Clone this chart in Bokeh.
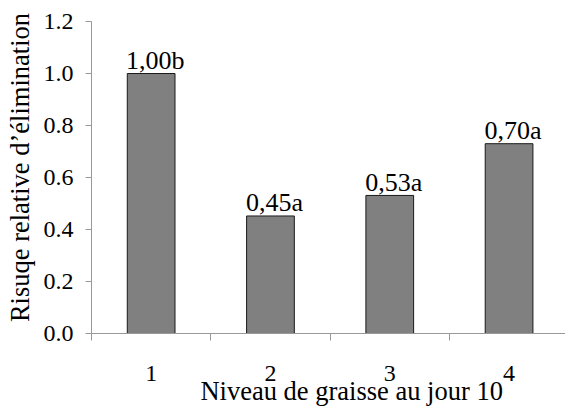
from bokeh.plotting import figure
from bokeh.models import FixedTicker, Range1d, ColumnDataSource
from bokeh.core.properties import value
from bokeh.embed import file_html
from bokeh.resources import INLINE

categories = ["1", "2", "3", "4"]
positions = [1, 2, 3, 4]
risk = [1.00, 0.452, 0.531, 0.730]
bar_labels = ["1,00b", "0,45a", "0,53a", "0,70a"]
yticks = [0.0, 0.2, 0.4, 0.6, 0.8, 1.0, 1.2]
ytick_labels = ["0.0", "0.2", "0.4", "0.6", "0.8", "1.0", "1.2"]
x_title = "Niveau de graisse au jour 10"
y_title = "Risuqe relative d\u2019élimination"

FONT = "Liberation Serif"
TICK_FS = "24px"
LABEL_FS = "26.5px"
NBSP = "\u00a0"

p = figure(width=565, height=408, output_backend="svg", toolbar_location=None,
           x_range=Range1d(0.5, 4.473), y_range=Range1d(0, 1.2),
           min_border_left=91, min_border_right=0, min_border_top=21,
           min_border_bottom=72)
p.outline_line_color = None
p.xgrid.grid_line_color = None
p.ygrid.grid_line_color = None
p.background_fill_color = "white"

src = ColumnDataSource(dict(x=positions, top=risk, lab=bar_labels))
p.vbar(x="x", top="top", width=0.40, source=src, fill_color="#808080",
       line_color="#1a1a1a", line_width=1)
p.text(x="x", y="top", text="lab", source=src, text_align="center",
       text_baseline="alphabetic", y_offset=-13, x_offset=4,
       text_font=value(FONT), text_font_size=value("26px"), text_color="black")

# x axis
xa = p.xaxis[0]
xa.ticker = FixedTicker(ticks=positions, minor_ticks=[0.5, 1.5, 2.5, 3.5, 4.5])
xa.major_label_overrides = {pos: c for pos, c in zip(positions, categories)}
xa.major_tick_out = 0
xa.major_tick_in = 0
xa.minor_tick_out = 7
xa.minor_tick_in = 0
xa.minor_tick_line_color = "#999999"
xa.axis_line_color = "#999999"
xa.major_label_standoff = 25
xa.major_label_text_font = FONT
xa.major_label_text_font_size = TICK_FS
xa.major_label_text_color = "black"
xa.axis_label = NBSP * 7 + x_title
xa.axis_label_text_font = FONT
xa.axis_label_text_font_size = LABEL_FS
xa.axis_label_text_font_style = "normal"
xa.axis_label_text_color = "black"
xa.axis_label_standoff = -8

# y axis
ya = p.yaxis[0]
ya.ticker = FixedTicker(ticks=yticks, minor_ticks=[])
ya.major_label_overrides = {t: s for t, s in zip(yticks, ytick_labels)}
ya.major_tick_out = 6
ya.major_tick_in = 0
ya.major_tick_line_color = "#999999"
ya.axis_line_color = "#999999"
ya.major_label_standoff = 12
ya.major_label_text_font = FONT
ya.major_label_text_font_size = TICK_FS
ya.major_label_text_color = "black"
ya.axis_label = NBSP * 3 + y_title
ya.axis_label_text_font = FONT
ya.axis_label_text_font_size = LABEL_FS
ya.axis_label_text_font_style = "normal"
ya.axis_label_text_color = "black"
ya.axis_label_standoff = 6

open("out.html", "w").write(file_html(p, INLINE))
